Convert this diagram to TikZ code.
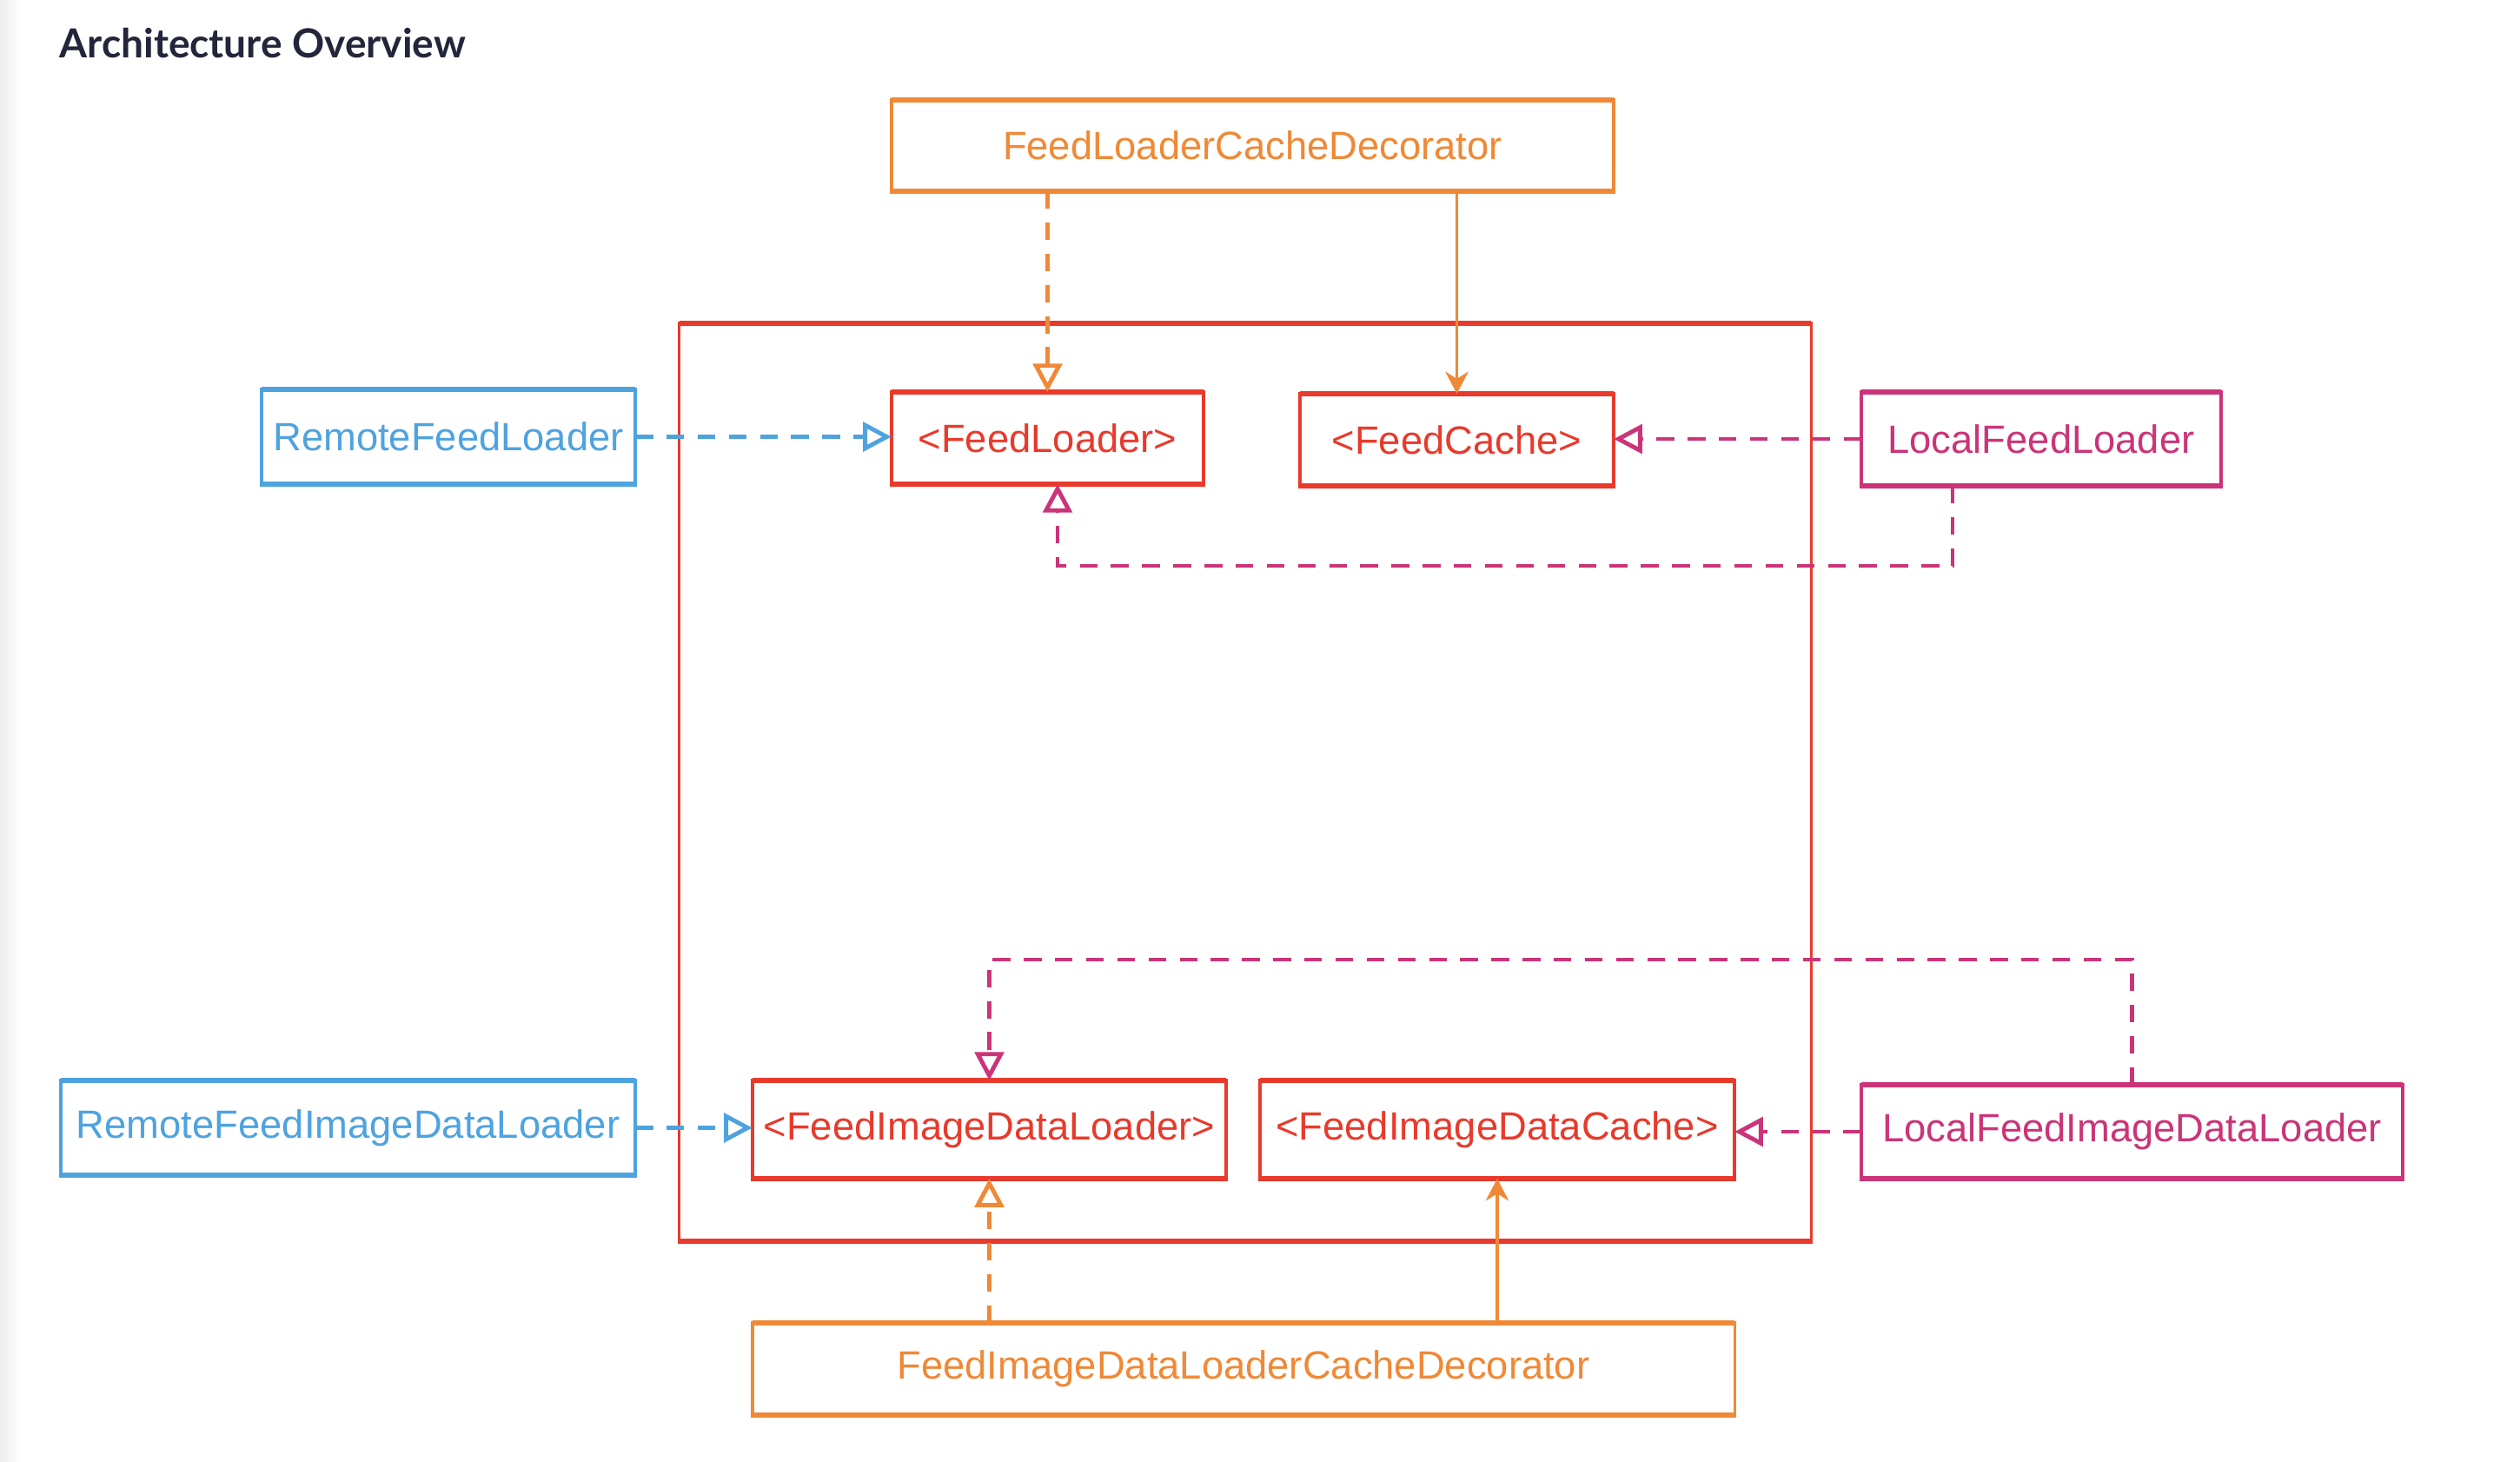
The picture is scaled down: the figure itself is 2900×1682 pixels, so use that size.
\documentclass[tikz,border=0pt]{standalone}
\usepackage{fontspec}
\setmainfont{Liberation Sans}
\newfontfamily\titlefont{Lato}
\usetikzlibrary{arrows.meta,calc}

\definecolor{cOrange}{RGB}{239,137,55}
\definecolor{cRed}{RGB}{232,58,44}
\definecolor{cBlue}{RGB}{78,163,223}
\definecolor{cMagenta}{RGB}{203,52,120}
\definecolor{cTitle}{RGB}{35,37,58}

\begin{document}
\begin{tikzpicture}[x=0.01cm,y=-0.01cm,
  box/.style={draw, line width=1.05pt, inner sep=0pt, outer sep=0pt, fill=white,
    font=\fontsize{12.9}{15}\selectfont},
  edge/.style={line width=1.7pt, shorten <=-0.52pt, shorten >=-0.52pt},
  dep/.style={line width=1.2pt, dash pattern=on 5.8pt off 4.4pt,
    -{Triangle[open, length=9.3pt, width=9.5pt, line width=1.4pt]}},
  uses/.style={line width=1.1pt, -{Stealth[length=7.2pt, width=7.5pt, inset=2.3pt]}},
]
\useasboundingbox (0,0) rectangle (2900,1682);
\shade[left color=black!7, right color=white] (0,0) rectangle (24,1682);

% heading
\node[anchor=base west, text=cTitle, inner sep=0pt,
  font=\titlefont\bfseries\fontsize{13.1}{15}\selectfont] (title) at (68,67) {Architecture Overview};

% core module frame
\node[draw=cRed, line width=1.05pt, inner sep=0pt, outer sep=0pt,
  minimum width=13.02cm, minimum height=10.56cm] (core) at (1433,900) {};

% feed boxes
\node[box, draw=cOrange, text=cOrange, minimum width=8.31cm, minimum height=1.05cm] (flcd) at (1441.5,167.5) {FeedLoaderCacheDecorator};
\node[box, draw=cBlue, text=cBlue, minimum width=4.30cm, minimum height=1.09cm] (rfl) at (516,502.5) {RemoteFeedLoader};
\node[box, draw=cRed, text=cRed, minimum width=3.59cm, minimum height=1.06cm] (fl) at (1205.5,504) {<FeedLoader>};
\node[box, draw=cRed, text=cRed, minimum width=3.61cm, minimum height=1.06cm] (fc) at (1676.5,506) {<FeedCache>};
\node[box, draw=cMagenta, text=cMagenta, minimum width=4.14cm, minimum height=1.08cm] (lfl) at (2349,505) {LocalFeedLoader};

% image data boxes
\node[box, draw=cBlue, text=cBlue, minimum width=6.61cm, minimum height=1.09cm] (rfidl) at (400.5,1297.5) {RemoteFeedImageDataLoader};
\node[box, draw=cRed, text=cRed, minimum width=5.45cm, minimum height=1.13cm] (fidl) at (1138.5,1299.5) {<FeedImageDataLoader>};
\node[box, draw=cRed, text=cRed, minimum width=5.46cm, minimum height=1.13cm] (fidc) at (1723,1299.5) {<FeedImageDataCache>};
\node[box, draw=cMagenta, text=cMagenta, minimum width=6.23cm, minimum height=1.08cm] (lfidl) at (2453.5,1302) {LocalFeedImageDataLoader};
\node[box, draw=cOrange, text=cOrange, minimum width=11.30cm, minimum height=1.06cm] (fidlcd) at (1431,1575) {FeedImageDataLoaderCacheDecorator};

% heavier top and bottom edges
\foreach \n/\c in {core/cRed, flcd/cOrange, rfl/cBlue, fl/cRed, fc/cRed, lfl/cMagenta,
                   rfidl/cBlue, fidl/cRed, fidc/cRed, lfidl/cMagenta, fidlcd/cOrange}
  \draw[edge, \c] (\n.north west) -- (\n.north east) (\n.south west) -- (\n.south east);

% feed connectors
\draw[dep, cOrange] (flcd.south -| fl.north) -- (fl.north);
\draw[uses, cOrange] (flcd.south -| fc.north) -- (fc.north);
\draw[dep, cBlue, line width=1.4pt] (rfl.east) -- (rfl.east -| fl.west);
\draw[dep, cMagenta, line width=1.4pt] (lfl.west) -- (lfl.west -| fc.east);
\coordinate (lflout) at ($(lfl.south west)!0.254!(lfl.south east)$);
\coordinate (flin) at ($(fl.south)+(11.5,0)$);
\draw[dep, cMagenta] (lflout) -- ++(0,92) -| (flin);

% image data connectors
\draw[dep, cMagenta] (lfidl.north) -- ++(0,-144) -| (fidl.north);
\draw[dep, cBlue, line width=1.4pt] (rfidl.east) -- (rfidl.east -| fidl.west);
\draw[dep, cMagenta, line width=1.4pt] (lfidl.west) -- (lfidl.west -| fidc.east);
\draw[dep, cOrange] (fidlcd.north -| fidl.south) -- (fidl.south);
\draw[uses, cOrange] (fidlcd.north -| fidc.south) -- (fidc.south);
\end{tikzpicture}
\end{document}
